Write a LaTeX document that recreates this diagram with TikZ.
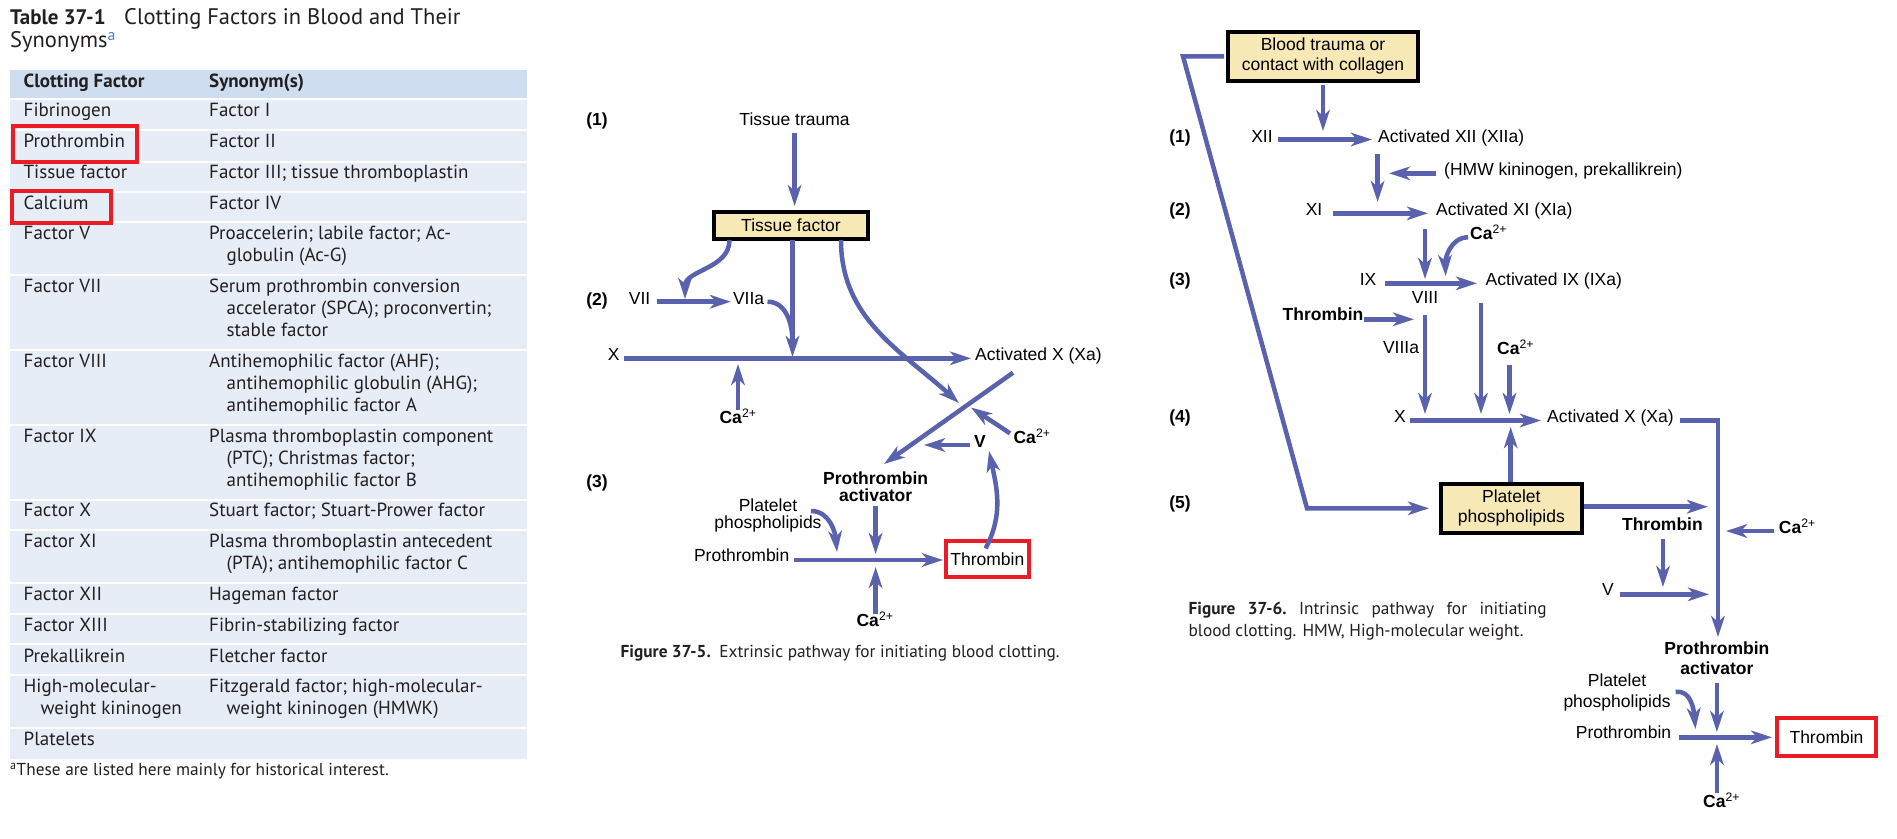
\documentclass[tikz,border=0pt]{standalone}
\usepackage{fontspec}
\setmainfont{Liberation Sans}
\newfontfamily\tabfont{PT Sans}
\usetikzlibrary{arrows.meta}
\definecolor{flow}{HTML}{5A62AD}
\definecolor{hdr}{HTML}{CFDDF0}
\definecolor{rowbg}{HTML}{E7EDF7}
\definecolor{boxfill}{HTML}{F7E9B5}
\definecolor{redbox}{HTML}{EC1C24}
\definecolor{ink}{HTML}{231F20}
\definecolor{supblue}{HTML}{4A7FC4}
\newcommand\capl{\textbf{Ca}\textsuperscript{2+}}
\begin{document}
\begin{tikzpicture}[x=1pt,y=-1pt,
  lbl/.style={font=\fontsize{17.5}{17}\selectfont, inner sep=0pt, anchor=mid, align=center},
  blbl/.style={lbl, font=\fontsize{17.5}{17}\selectfont\bfseries},
  wlbl/.style={lbl, anchor=mid west},
  tab/.style={font=\tabfont\fontsize{19}{22}\selectfont, text=ink, anchor=mid west, inner sep=0pt},
  tabh/.style={tab, font=\tabfont\fontsize{19}{22}\selectfont\bfseries},
  capt/.style={font=\tabfont\fontsize{17.3}{22}\selectfont, text=ink, anchor=mid west, inner sep=0pt},
  arr/.style={draw=flow, line width=4.5pt, -{Stealth[length=21pt,width=13.5pt,inset=6pt]}},
  ln/.style={draw=flow, line width=4.5pt},
  ybox/.style={draw=black, line width=4pt, fill=boxfill, inner sep=0pt, align=center,
               font=\fontsize{17.5}{20}\selectfont},
  rbox/.style={draw=redbox, line width=4pt, inner sep=0pt, font=\fontsize{17.5}{17}\selectfont},
  sep/.style={draw=white, line width=2pt},
  redsq/.style={draw=redbox, line width=4pt}
]
\useasboundingbox (0,0) rectangle (1897,838);
\fill[white] (0,0) rectangle (1897,838);

%% ---------------- TABLE ----------------
\node[anchor=mid west, inner sep=0pt, text=ink, font=\tabfont\fontsize{21}{25}\selectfont\bfseries] (ttl) at (10,21.7) {Table 37-1};
\node[anchor=mid west, inner sep=0pt, text=ink, font=\tabfont\fontsize{22.5}{25}\selectfont] (ttl2) at (124,21.7) {Clotting Factors in Blood and Their};
\node[anchor=mid west, inner sep=0pt, text=ink, font=\tabfont\fontsize{22.5}{25}\selectfont] (ttl3) at (10,45) {Synonyms\textsuperscript{\textcolor{supblue}{a}}};

\fill[rowbg] (9.5,99.3) rectangle (527,759);
\fill[hdr] (9.5,69.5) rectangle (527,99.3);
\foreach \yy in {99.3,130,161.7,192.3,222.3,275,350,425,500,530,582.7,614,644.3,675,728.3}
  \draw[sep] (9.5,\yy) -- (527,\yy);

\node[tabh] (h1) at (23.5,84.5) {Clotting Factor};
\node[tabh] (h2) at (209,84.5) {Synonym(s)};

\node[tab] (a1) at (23.5,114.3) {Fibrinogen};
\node[tab] (b1) at (209,114.3) {Factor I};
\node[tab] (a2) at (23.5,145) {Prothrombin};
\node[tab] (b2) at (209,145) {Factor II};
\node[tab] (a3) at (23.5,176) {Tissue factor};
\node[tab] (b3) at (209,176) {Factor III; tissue thromboplastin};
\node[tab] (a4) at (23.5,206.7) {Calcium};
\node[tab] (b4) at (209,206.7) {Factor IV};
\node[tab] (a5) at (23.5,237.3) {Factor V};
\node[tab] (b5) at (209,237.3) {Proaccelerin; labile factor; Ac-};
\node[tab] (b5b) at (226.5,259.3) {globulin (Ac-G)};
\node[tab] (a6) at (23.5,290) {Factor VII};
\node[tab] (b6) at (209,290) {Serum prothrombin conversion};
\node[tab] (b6b) at (226.5,312.3) {accelerator (SPCA); proconvertin;};
\node[tab] (b6c) at (226.5,334.3) {stable factor};
\node[tab] (a7) at (23.5,365) {Factor VIII};
\node[tab] (b7) at (209,365) {Antihemophilic factor (AHF);};
\node[tab] (b7b) at (226.5,387.3) {antihemophilic globulin (AHG);};
\node[tab] (b7c) at (226.5,409.3) {antihemophilic factor A};
\node[tab] (a8) at (23.5,440) {Factor IX};
\node[tab] (b8) at (209,440) {Plasma thromboplastin component};
\node[tab] (b8b) at (226.5,462) {(PTC); Christmas factor;};
\node[tab] (b8c) at (226.5,484) {antihemophilic factor B};
\node[tab] (a9) at (23.5,514) {Factor X};
\node[tab] (b9) at (209,514) {Stuart factor; Stuart-Prower factor};
\node[tab] (a10) at (23.5,545) {Factor XI};
\node[tab] (b10) at (209,545) {Plasma thromboplastin antecedent};
\node[tab] (b10b) at (226.5,567) {(PTA); antihemophilic factor C};
\node[tab] (a11) at (23.5,598.3) {Factor XII};
\node[tab] (b11) at (209,598.3) {Hageman factor};
\node[tab] (a12) at (23.5,629) {Factor XIII};
\node[tab] (b12) at (209,629) {Fibrin-stabilizing factor};
\node[tab] (a13) at (23.5,659.5) {Prekallikrein};
\node[tab] (b13) at (209,659.5) {Fletcher factor};
\node[tab] (a14) at (23.5,690) {High-molecular-};
\node[tab] (a14b) at (40.5,712.3) {weight kininogen};
\node[tab] (b14) at (209,690) {Fitzgerald factor; high-molecular-};
\node[tab] (b14b) at (226.5,712.3) {weight kininogen (HMWK)};
\node[tab] (a15) at (23.5,743.3) {Platelets};
\node[tab, font=\tabfont\fontsize{17.3}{20}\selectfont] (fn) at (10,773) {\textsuperscript{a}These are listed here mainly for historical interest.};

\draw[redsq] (12.7,125.7) rectangle (136.7,161.7);
\draw[redsq] (12,190.7) rectangle (110.5,223.3);

%% ---------------- FIGURE 37-5 ----------------
\node[blbl] (e1) at (597,122.7) {(1)};
\node[blbl] (e2) at (597,303.3) {(2)};
\node[blbl] (e3) at (597,485) {(3)};
\node[lbl] (trauma) at (794.6,122.7) {Tissue trauma};
\node[ybox, minimum width=154pt, minimum height=27pt] (tf) at (791,225.5) {Tissue factor};
\node[lbl] (vii) at (639.6,301.7) {VII};
\node[lbl] (viia) at (748.6,301.7) {VIIa};
\node[lbl] (x1) at (613.6,358.3) {X};
\node[wlbl] (xa1) at (975,358.3) {Activated X (Xa)};
\node[lbl] (ca1) at (738,421) {\capl};
\node[lbl] (ca2) at (1032,440.7) {\capl};
\node[blbl] (v1) at (980,445) {V};
\node[blbl, anchor=center] (pa1) at (875.6,486.5) {Prothrombin\\activator};
\node[lbl, anchor=center] (pl1) at (768,515.5) {Platelet\\phospholipids};
\node[lbl] (pro1) at (741.7,559.3) {Prothrombin};
\node[rbox, minimum width=83pt, minimum height=36.5pt] (thr1) at (987.3,559.2) {Thrombin};
\node[lbl] (ca3) at (875,624) {\capl};
\node[capt] (cap1) at (620.5,655) {\textbf{Figure 37-5.}\enspace Extrinsic pathway for initiating blood clotting.};

\coordinate (t1) at (794.6,133.3);
\coordinate (t2) at (794.6,206);
\draw[arr] (t1) -- (t2);
\coordinate (s1) at (729.5,240);
\coordinate (s2) at (685,299);
\draw[arr] (s1) to[out=-90,in=90] (s2);
\coordinate (v7a) at (657,301.7);
\coordinate (v7b) at (731,301.7);
\draw[arr] (v7a) -- (v7b);
\coordinate (q1) at (767.5,301.7);
\coordinate (q2) at (792.5,342);
\draw[ln] (q1) to[out=0,in=90] (q2);
\coordinate (d1) at (792.5,240);
\coordinate (d2) at (792.5,357);
\draw[arr] (d1) -- (d2);
\coordinate (xl1) at (624,358.3);
\coordinate (xl2) at (971,358.3);
\draw[arr, line width=5.5pt] (xl1) -- (xl2);
\coordinate (c1a) at (738,410);
\coordinate (c1b) at (738,364);
\draw[arr] (c1a) -- (c1b);
\coordinate (r1) at (841,240);
\coordinate (r2) at (959,403);
\draw[arr] (r1) to[out=-90,in=138] (r2);
\coordinate (g1) at (1013,372.7);
\coordinate (g2) at (884,464);
\draw[arr] (g1) -- (g2);
\coordinate (c2a) at (1010,433.3);
\coordinate (c2b) at (971,407.5);
\draw[arr] (c2a) -- (c2b);
\coordinate (va) at (970,445);
\coordinate (vb) at (924,445);
\draw[arr] (va) -- (vb);
\coordinate (k1) at (985.6,548.3);
\coordinate (k2) at (989,451);
\draw[arr] (k1) to[out=62,in=-78] (k2);
\coordinate (p1) at (811,511);
\coordinate (p2) at (837,552);
\draw[arr] (p1) to[out=0,in=95] (p2);
\coordinate (pa1a) at (875.6,506);
\coordinate (pa1b) at (875.6,554);
\draw[arr] (pa1a) -- (pa1b);
\coordinate (pr1a) at (793.6,560);
\coordinate (pr1b) at (943,560);
\draw[arr] (pr1a) -- (pr1b);
\coordinate (c3a) at (875.6,614);
\coordinate (c3b) at (875.6,567);
\draw[arr] (c3a) -- (c3b);

%% ---------------- FIGURE 37-6 ----------------
\node[ybox, minimum width=190pt, minimum height=49pt] (bt) at (1323,56.3) {Blood trauma or\\contact with collagen};
\node[blbl] (i1) at (1180,140) {(1)};
\node[blbl] (i2) at (1180,213.3) {(2)};
\node[blbl] (i3) at (1180,283.3) {(3)};
\node[blbl] (i4) at (1180,420) {(4)};
\node[blbl] (i5) at (1180,506) {(5)};
\node[lbl] (xii) at (1262,140) {XII};
\node[wlbl] (xiia) at (1378,140) {Activated XII (XIIa)};
\node[wlbl] (hmw) at (1444,173.3) {(HMW kininogen, prekallikrein)};
\node[lbl] (xi) at (1314,213.3) {XI};
\node[wlbl] (xia) at (1436,213.3) {Activated XI (XIa)};
\node[lbl] (ca4) at (1488.6,237.3) {\capl};
\node[lbl] (ix) at (1368,283.3) {IX};
\node[wlbl] (ixa) at (1485.5,283.3) {Activated IX (IXa)};
\node[lbl] (viii) at (1425,301) {VIII};
\node[blbl] (thb2) at (1323,317.7) {Thrombin};
\node[lbl] (viiia) at (1401,350.7) {VIIIa};
\node[lbl] (ca5) at (1515.6,352.3) {\capl};
\node[lbl] (x2) at (1400,420) {X};
\node[wlbl] (xa2) at (1547,420) {Activated X (Xa)};
\node[ybox, minimum width=141pt, minimum height=49pt] (pp) at (1511.3,508.3) {Platelet\\phospholipids};
\node[blbl] (thb3) at (1662.4,527.7) {Thrombin};
\node[lbl] (ca6) at (1797.4,531) {\capl};
\node[lbl] (v2) at (1608,593.3) {V};
\node[blbl, anchor=center, font=\fontsize{17.5}{20}\selectfont\bfseries] (pa2) at (1716.9,658.5) {Prothrombin\\activator};
\node[lbl, anchor=center, font=\fontsize{17.5}{20.5}\selectfont] (pl2) at (1617,692.7) {Platelet\\phospholipids};
\node[lbl] (pro2) at (1623.5,736) {Prothrombin};
\node[rbox, minimum width=99pt, minimum height=38.3pt] (thr2) at (1826.5,737.2) {Thrombin};
\node[lbl] (ca7) at (1721.6,805) {\capl};
\node[capt] (cap2a) at (1188.4,612.3) {\hbox to 358pt{\textbf{Figure}\hfill\textbf{37-6.}\hfill Intrinsic\hfill pathway\hfill for\hfill initiating}};
\node[capt] (cap2b) at (1188.4,634) {blood clotting. HMW, High-molecular weight.};

\coordinate (b1) at (1323,84.5);
\coordinate (b2) at (1323,131);
\draw[arr] (b1) -- (b2);
\coordinate (l1) at (1224,56.3);
\coordinate (l2) at (1183,56.3);
\coordinate (l3) at (1307,508.3);
\coordinate (l4) at (1429,508.3);
\draw[arr, line join=miter] (l1) -- (l2) -- (l3) -- (l4);
\coordinate (x12a) at (1278,139.5);
\coordinate (x12b) at (1372,139.5);
\draw[arr] (x12a) -- (x12b);
\coordinate (m1) at (1377.6,154);
\coordinate (m2) at (1377.6,202);
\draw[arr] (m1) -- (m2);
\coordinate (hm1) at (1436,173.3);
\coordinate (hm2) at (1389,173.3);
\draw[arr] (hm1) -- (hm2);
\coordinate (x11a) at (1333,213.3);
\coordinate (x11b) at (1428,213.3);
\draw[arr] (x11a) -- (x11b);
\coordinate (m3) at (1425,229.3);
\coordinate (m4) at (1425,279);
\draw[arr] (m3) -- (m4);
\coordinate (cc1) at (1468,237.3);
\coordinate (cc2) at (1445.7,276);
\draw[arr] (cc1) to[out=180,in=92] (cc2);
\coordinate (x9a) at (1385,283.3);
\coordinate (x9b) at (1477,283.3);
\draw[arr] (x9a) -- (x9b);
\coordinate (th1) at (1364,319.3);
\coordinate (th2) at (1414,319.3);
\draw[arr] (th1) -- (th2);
\coordinate (m5) at (1425,315);
\coordinate (m6) at (1425,414);
\draw[arr] (m5) -- (m6);
\coordinate (m7) at (1481,303.3);
\coordinate (m8) at (1481,414);
\draw[arr] (m7) -- (m8);
\coordinate (m9) at (1509.5,365);
\coordinate (m10) at (1509.5,414);
\draw[arr] (m9) -- (m10);
\coordinate (x10a) at (1410,420.5);
\coordinate (x10b) at (1541,420.5);
\draw[arr] (x10a) -- (x10b);
\coordinate (u1) at (1510.7,482);
\coordinate (u2) at (1510.7,427);
\draw[arr] (u1) -- (u2);
\coordinate (w1) at (1584,506.7);
\coordinate (w2) at (1708,506.7);
\draw[arr] (w1) -- (w2);
\coordinate (z1) at (1680,420.5);
\coordinate (z2) at (1718,420.5);
\coordinate (z3) at (1718,637);
\draw[arr, line join=miter] (z1) -- (z2) -- (z3);
\coordinate (n1) at (1663,539.3);
\coordinate (n2) at (1663,587);
\draw[arr] (n1) -- (n2);
\coordinate (cb1) at (1774,531);
\coordinate (cb2) at (1726,531);
\draw[arr] (cb1) -- (cb2);
\coordinate (vv1) at (1619.7,594.3);
\coordinate (vv2) at (1709,594.3);
\draw[arr] (vv1) -- (vv2);
\coordinate (pq1) at (1675.6,692);
\coordinate (pq2) at (1695.5,729);
\draw[arr] (pq1) to[out=10,in=95] (pq2);
\coordinate (pa2a) at (1716.9,683.3);
\coordinate (pa2b) at (1716.9,732);
\draw[arr] (pa2a) -- (pa2b);
\coordinate (pr2a) at (1679,737.3);
\coordinate (pr2b) at (1772,737.3);
\draw[arr] (pr2a) -- (pr2b);
\coordinate (c7a) at (1717,793.3);
\coordinate (c7b) at (1717,744);
\draw[arr] (c7a) -- (c7b);
\end{tikzpicture}
\end{document}
